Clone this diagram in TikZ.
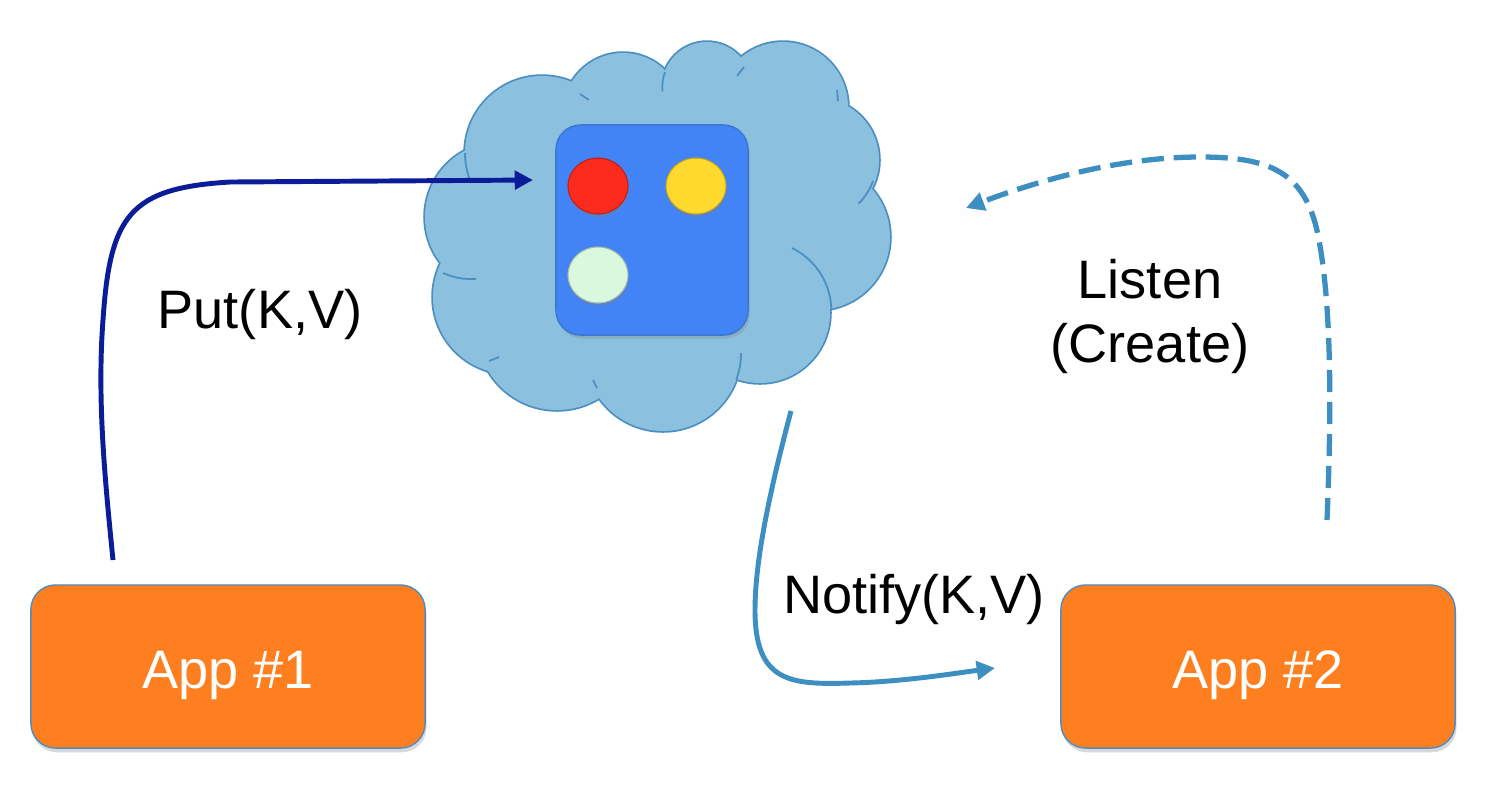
\documentclass[tikz,border=0pt]{standalone}
\usepackage{fontspec}
\setmainfont{Liberation Sans}
\usetikzlibrary{arrows.meta,shadows,shapes.geometric}
\definecolor{cloudfill}{HTML}{8CC0DF}
\definecolor{cloudline}{HTML}{4A8FC2}
\definecolor{sqblue}{HTML}{4283F5}
\definecolor{sqline}{HTML}{3A78D0}
\definecolor{appor}{HTML}{FE7F20}
\definecolor{appline}{HTML}{4F8DBF}
\definecolor{navyarrow}{HTML}{0B1C98}
\definecolor{steel}{HTML}{3D8EC1}
\definecolor{dotred}{HTML}{FD2A1E}
\definecolor{dotyellow}{HTML}{FFDA2E}
\definecolor{dotgreen}{HTML}{D9F8DD}
\tikzset{
  appbox/.style={rectangle, rounded corners=7pt, fill=appor, draw=appline, line width=0.4pt,
    minimum width=3.94cm, minimum height=1.63cm, inner sep=0pt, text=white,
    font=\fontsize{15.4}{18}\selectfont, text height=15.4pt, text depth=3.1pt,
    drop shadow={shadow xshift=0.4pt, shadow yshift=-1.2pt, opacity=0.3}},
  storebox/.style={rectangle, rounded corners=7pt, fill=sqblue, draw=sqline, line width=0.4pt,
    minimum width=1.92cm, minimum height=2.10cm, inner sep=0pt,
    drop shadow={shadow xshift=0.5pt, shadow yshift=-1pt, opacity=0.3}},
  dot/.style={ellipse, minimum width=0.60cm, minimum height=0.56cm, inner sep=0pt, line width=0.3pt,
    drop shadow={shadow xshift=0.3pt, shadow yshift=-0.9pt, opacity=0.3}},
  lbl/.style={font=\fontsize{15.4}{18.2}\selectfont, inner sep=0pt, text=black},
  bumpline/.style={draw=cloudline, line width=1pt},
  crease/.style={draw=cloudline, line width=0.5pt},
  flow/.style={line width=1.4pt},
  tipa/.style={-{Triangle[length=5.2pt,width=5.2pt]}},
}
\begin{document}
\begin{tikzpicture}[x=0.01cm, y=-0.01cm]
\useasboundingbox (0,0) rectangle (1500,796);
\fill[white] (0,0) rectangle (1500,796);

% cloud: outline then fill
\foreach \cx/\cy/\r in {542/153/77, 623/113/60, 707/87/45, 783/107/65, 817/160/62, 817/237/73, 760/313/70, 663/353/78, 557/330/80, 510/297/77, 500/217/75}
  \draw[bumpline] (\cx,\cy) circle (\r);
\foreach \cx/\cy/\r in {542/153/77, 623/113/60, 707/87/45, 783/107/65, 817/160/62, 817/237/73, 760/313/70, 663/353/78, 557/330/80, 510/297/77, 500/217/75}
  \fill[cloudfill] (\cx,\cy) circle (\r);
\fill[cloudfill] (655,235) ellipse (190 and 140);
% creases
\draw[crease] (792,248) arc[start angle=-64, end angle=0, radius=70];
\draw[crease] (873,181) arc[start angle=20, end angle=45, radius=62];
\draw[crease] (741,353) arc[start angle=0, end angle=20, radius=78];
\draw[crease] (465,153) arc[start angle=180, end angle=157, radius=77];
\draw[crease] (665,72) arc[start angle=200, end angle=175, radius=45];
\draw[crease] (443,273) to[bend right=12] (476,279);
\draw[crease] (580,94) -- (589,100);
\draw[crease] (837,90) -- (838,101);
\draw[crease] (593,380) -- (597,388);
\draw[crease] (489,361) -- (499,357);
\draw[crease] (737,76) -- (744,67);

% store with records
\node[storebox] (store) at (652,230) {};
\node[dot, fill=dotred, draw=dotred!75!black] (kred) at (598,186) {};
\node[dot, fill=dotyellow, draw=dotyellow!75!black] (kyellow) at (696,186) {};
\node[dot, fill=dotgreen, draw=dotgreen!75!black] (kgreen) at (598,275) {};

% apps
\node[appbox] (app1) at (228,666.5) {App \#1};
\node[appbox] (app2) at (1258,666.5) {App \#2};

% labels
\node[lbl, anchor=base] (putlbl) at (260,328) {Put(K,V)};
\node[lbl, anchor=base] (notifylbl) at (914,613) {Notify(K,V)};
\node[lbl, align=center] (listenlbl) at (1150,316) {Listen\\(Create)};

% connector end points
\coordinate (putstart) at (113,560);
\coordinate (putend) at (533,180);
\coordinate (notstart) at (791,411);
\coordinate (notend) at (995,668);
\coordinate (lisstart) at (1327,520);
\coordinate (lisend) at (966,208);

% Put arrow
\draw[flow, navyarrow, tipa] (putstart)
  .. controls (105,480) and (97,400) .. (103,320)
  .. controls (110,215) and (130,188) .. (230,182)
  -- (putend);
% Notify arrow
\draw[flow, steel, tipa] (notstart)
  .. controls (770,490) and (755,560) .. (755,610)
  .. controls (755,682) and (790,685) .. (850,683)
  .. controls (900,682) and (950,674) .. (notend);
% Listen arrow (dashed)
\draw[line width=1.5pt, steel, dash pattern=on 6.3pt off 2.8pt, tipa] (lisstart)
  .. controls (1332,400) and (1331,300) .. (1318,235)
  .. controls (1305,172) and (1270,157) .. (1200,157)
  .. controls (1120,157) and (1040,180) .. (lisend);
\end{tikzpicture}
\end{document}
